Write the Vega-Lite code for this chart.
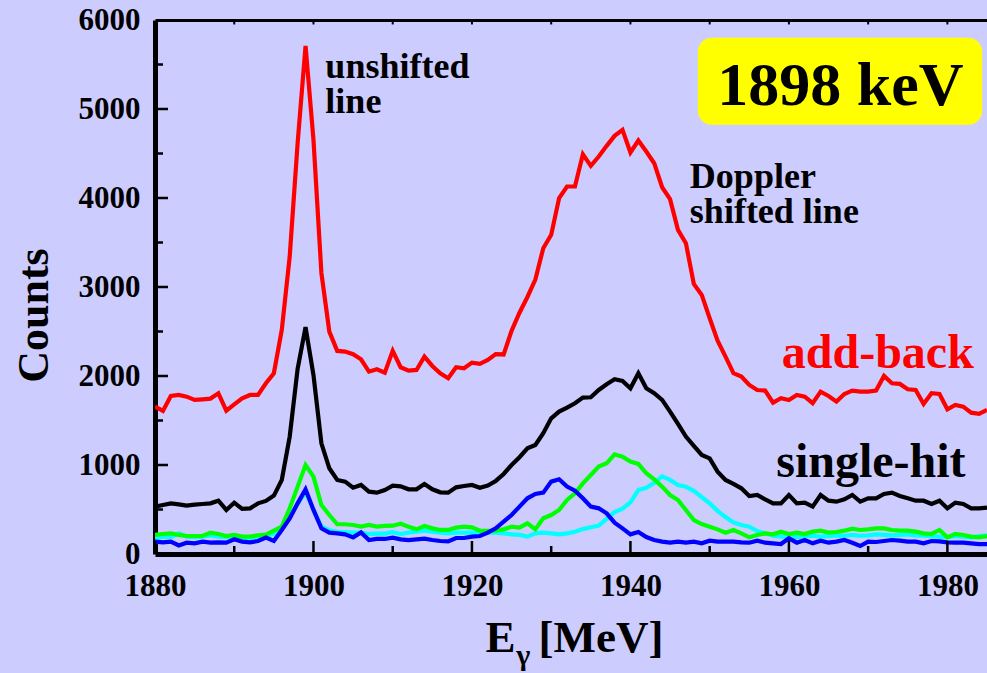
{
  "$schema": "https://vega.github.io/schema/vega-lite/v6.json",
  "width": 832,
  "height": 534,
  "autosize": {"type": "none"},
  "padding": {"left": 155, "top": 20, "right": 0, "bottom": 119},
  "background": "#ccccff",
  "config": {
    "view": {"stroke": null},
    "font": "Liberation Serif",
    "axis": {
      "domainColor": "#000000",
      "domainWidth": 5,
      "labelFont": "Liberation Serif",
      "labelFontWeight": "bold",
      "labelFontSize": 31,
      "labelColor": "#000000",
      "labelOverlap": false,
      "labelFlush": false,
      "grid": false
    }
  },
  "datasets": {
    "spectra": [
      {"E":1880,"addback":1656,"singlehit":532,"subsetA":214,"subsetB":139,"subsetC":176},
      {"E":1881,"addback":1608,"singlehit":551,"subsetA":225,"subsetB":131,"subsetC":195},
      {"E":1882,"addback":1776,"singlehit":569,"subsetA":232,"subsetB":139,"subsetC":190},
      {"E":1883,"addback":1787,"singlehit":558,"subsetA":214,"subsetB":97,"subsetC":232},
      {"E":1884,"addback":1768,"singlehit":543,"subsetA":202,"subsetB":127,"subsetC":195},
      {"E":1885,"addback":1731,"singlehit":555,"subsetA":202,"subsetB":120,"subsetC":190},
      {"E":1886,"addback":1738,"singlehit":562,"subsetA":202,"subsetB":139,"subsetC":195},
      {"E":1887,"addback":1746,"singlehit":569,"subsetA":240,"subsetB":127,"subsetC":210},
      {"E":1888,"addback":1806,"singlehit":599,"subsetA":225,"subsetB":131,"subsetC":195},
      {"E":1889,"addback":1611,"singlehit":495,"subsetA":202,"subsetB":127,"subsetC":190},
      {"E":1890,"addback":1682,"singlehit":577,"subsetA":214,"subsetB":165,"subsetC":195},
      {"E":1891,"addback":1750,"singlehit":506,"subsetA":195,"subsetB":139,"subsetC":176},
      {"E":1892,"addback":1787,"singlehit":513,"subsetA":195,"subsetB":131,"subsetC":182},
      {"E":1893,"addback":1787,"singlehit":569,"subsetA":210,"subsetB":146,"subsetC":195},
      {"E":1894,"addback":1918,"singlehit":596,"subsetA":217,"subsetB":184,"subsetC":200},
      {"E":1895,"addback":2031,"singlehit":656,"subsetA":262,"subsetB":146,"subsetC":230},
      {"E":1896,"addback":2518,"singlehit":832,"subsetA":307,"subsetB":270,"subsetC":290},
      {"E":1897,"addback":3342,"singlehit":1319,"subsetA":513,"subsetB":401,"subsetC":420},
      {"E":1898,"addback":4616,"singlehit":2080,"subsetA":757,"subsetB":569,"subsetC":560},
      {"E":1899,"addback":5710,"singlehit":2550,"subsetA":1000,"subsetB":727,"subsetC":700},
      {"E":1900,"addback":4653,"singlehit":2010,"subsetA":869,"subsetB":495,"subsetC":500},
      {"E":1901,"addback":3158,"singlehit":1244,"subsetA":551,"subsetB":288,"subsetC":310},
      {"E":1902,"addback":2499,"singlehit":963,"subsetA":438,"subsetB":240,"subsetC":265},
      {"E":1903,"addback":2282,"singlehit":832,"subsetA":334,"subsetB":232,"subsetC":250},
      {"E":1904,"addback":2274,"singlehit":813,"subsetA":334,"subsetB":221,"subsetC":245},
      {"E":1905,"addback":2244,"singlehit":745,"subsetA":326,"subsetB":187,"subsetC":240},
      {"E":1906,"addback":2188,"singlehit":776,"subsetA":307,"subsetB":243,"subsetC":240},
      {"E":1907,"addback":2049,"singlehit":700,"subsetA":326,"subsetB":157,"subsetC":225},
      {"E":1908,"addback":2076,"singlehit":689,"subsetA":307,"subsetB":169,"subsetC":230},
      {"E":1909,"addback":2038,"singlehit":719,"subsetA":315,"subsetB":169,"subsetC":230},
      {"E":1910,"addback":2282,"singlehit":768,"subsetA":318,"subsetB":184,"subsetC":245},
      {"E":1911,"addback":2098,"singlehit":760,"subsetA":340,"subsetB":165,"subsetC":225},
      {"E":1912,"addback":2061,"singlehit":727,"subsetA":307,"subsetB":157,"subsetC":240},
      {"E":1913,"addback":2068,"singlehit":727,"subsetA":277,"subsetB":165,"subsetC":251},
      {"E":1914,"addback":2218,"singlehit":787,"subsetA":315,"subsetB":172,"subsetC":262},
      {"E":1915,"addback":2113,"singlehit":727,"subsetA":288,"subsetB":157,"subsetC":251},
      {"E":1916,"addback":2031,"singlehit":693,"subsetA":270,"subsetB":146,"subsetC":240},
      {"E":1917,"addback":1975,"singlehit":689,"subsetA":270,"subsetB":142,"subsetC":232},
      {"E":1918,"addback":2098,"singlehit":749,"subsetA":296,"subsetB":180,"subsetC":240},
      {"E":1919,"addback":2087,"singlehit":764,"subsetA":307,"subsetB":180,"subsetC":240},
      {"E":1920,"addback":2150,"singlehit":776,"subsetA":300,"subsetB":195,"subsetC":240},
      {"E":1921,"addback":2136,"singlehit":745,"subsetA":262,"subsetB":202,"subsetC":232},
      {"E":1922,"addback":2180,"singlehit":768,"subsetA":259,"subsetB":240,"subsetC":240},
      {"E":1923,"addback":2246,"singlehit":821,"subsetA":262,"subsetB":288,"subsetC":240},
      {"E":1924,"addback":2242,"singlehit":899,"subsetA":277,"subsetB":363,"subsetC":232},
      {"E":1925,"addback":2508,"singlehit":1000,"subsetA":307,"subsetB":438,"subsetC":221},
      {"E":1926,"addback":2711,"singlehit":1087,"subsetA":296,"subsetB":532,"subsetC":214},
      {"E":1927,"addback":2888,"singlehit":1188,"subsetA":345,"subsetB":626,"subsetC":195},
      {"E":1928,"addback":3083,"singlehit":1225,"subsetA":277,"subsetB":674,"subsetC":232},
      {"E":1929,"addback":3436,"singlehit":1357,"subsetA":401,"subsetB":689,"subsetC":240},
      {"E":1930,"addback":3586,"singlehit":1525,"subsetA":438,"subsetB":813,"subsetC":232},
      {"E":1931,"addback":3998,"singlehit":1600,"subsetA":495,"subsetB":839,"subsetC":220},
      {"E":1932,"addback":4129,"singlehit":1645,"subsetA":607,"subsetB":757,"subsetC":232},
      {"E":1933,"addback":4129,"singlehit":1694,"subsetA":682,"subsetB":712,"subsetC":250},
      {"E":1934,"addback":4492,"singlehit":1757,"subsetA":794,"subsetB":626,"subsetC":280},
      {"E":1935,"addback":4361,"singlehit":1761,"subsetA":888,"subsetB":532,"subsetC":300},
      {"E":1936,"addback":4466,"singlehit":1843,"subsetA":982,"subsetB":513,"subsetC":320},
      {"E":1937,"addback":4586,"singlehit":1907,"subsetA":1019,"subsetB":457,"subsetC":395},
      {"E":1938,"addback":4698,"singlehit":1963,"subsetA":1120,"subsetB":352,"subsetC":470},
      {"E":1939,"addback":4766,"singlehit":1945,"subsetA":1094,"subsetB":288,"subsetC":510},
      {"E":1940,"addback":4511,"singlehit":1862,"subsetA":1038,"subsetB":221,"subsetC":580},
      {"E":1941,"addback":4646,"singlehit":2031,"subsetA":1012,"subsetB":247,"subsetC":719},
      {"E":1942,"addback":4522,"singlehit":1862,"subsetA":907,"subsetB":190,"subsetC":745},
      {"E":1943,"addback":4391,"singlehit":1806,"subsetA":839,"subsetB":157,"subsetC":800},
      {"E":1944,"addback":4121,"singlehit":1731,"subsetA":757,"subsetB":139,"subsetC":872},
      {"E":1945,"addback":3987,"singlehit":1600,"subsetA":663,"subsetB":127,"subsetC":832},
      {"E":1946,"addback":3642,"singlehit":1461,"subsetA":607,"subsetB":139,"subsetC":776},
      {"E":1947,"addback":3492,"singlehit":1319,"subsetA":495,"subsetB":127,"subsetC":757},
      {"E":1948,"addback":3035,"singlehit":1214,"subsetA":382,"subsetB":139,"subsetC":710},
      {"E":1949,"addback":2911,"singlehit":1113,"subsetA":337,"subsetB":120,"subsetC":640},
      {"E":1950,"addback":2649,"singlehit":1075,"subsetA":307,"subsetB":150,"subsetC":570},
      {"E":1951,"addback":2396,"singlehit":925,"subsetA":277,"subsetB":139,"subsetC":485},
      {"E":1952,"addback":2218,"singlehit":832,"subsetA":240,"subsetB":139,"subsetC":415},
      {"E":1953,"addback":2031,"singlehit":787,"subsetA":270,"subsetB":139,"subsetC":355},
      {"E":1954,"addback":1993,"singlehit":738,"subsetA":232,"subsetB":131,"subsetC":326},
      {"E":1955,"addback":1900,"singlehit":652,"subsetA":187,"subsetB":127,"subsetC":307},
      {"E":1956,"addback":1843,"singlehit":663,"subsetA":214,"subsetB":150,"subsetC":258},
      {"E":1957,"addback":1836,"singlehit":614,"subsetA":232,"subsetB":127,"subsetC":232},
      {"E":1958,"addback":1701,"singlehit":569,"subsetA":221,"subsetB":120,"subsetC":205},
      {"E":1959,"addback":1750,"singlehit":569,"subsetA":251,"subsetB":112,"subsetC":195},
      {"E":1960,"addback":1731,"singlehit":663,"subsetA":225,"subsetB":176,"subsetC":200},
      {"E":1961,"addback":1787,"singlehit":569,"subsetA":240,"subsetB":127,"subsetC":190},
      {"E":1962,"addback":1768,"singlehit":577,"subsetA":225,"subsetB":157,"subsetC":200},
      {"E":1963,"addback":1694,"singlehit":532,"subsetA":251,"subsetB":120,"subsetC":205},
      {"E":1964,"addback":1824,"singlehit":663,"subsetA":262,"subsetB":150,"subsetC":195},
      {"E":1965,"addback":1776,"singlehit":599,"subsetA":240,"subsetB":127,"subsetC":200},
      {"E":1966,"addback":1712,"singlehit":588,"subsetA":247,"subsetB":139,"subsetC":210},
      {"E":1967,"addback":1798,"singlehit":614,"subsetA":262,"subsetB":157,"subsetC":205},
      {"E":1968,"addback":1836,"singlehit":663,"subsetA":285,"subsetB":127,"subsetC":215},
      {"E":1969,"addback":1824,"singlehit":588,"subsetA":270,"subsetB":90,"subsetC":205},
      {"E":1970,"addback":1824,"singlehit":626,"subsetA":277,"subsetB":139,"subsetC":210},
      {"E":1971,"addback":1836,"singlehit":626,"subsetA":288,"subsetB":135,"subsetC":220},
      {"E":1972,"addback":2001,"singlehit":674,"subsetA":288,"subsetB":146,"subsetC":215},
      {"E":1973,"addback":1918,"singlehit":689,"subsetA":270,"subsetB":157,"subsetC":210},
      {"E":1974,"addback":1911,"singlehit":652,"subsetA":262,"subsetB":150,"subsetC":215},
      {"E":1975,"addback":1851,"singlehit":626,"subsetA":262,"subsetB":139,"subsetC":220},
      {"E":1976,"addback":1843,"singlehit":599,"subsetA":251,"subsetB":139,"subsetC":210},
      {"E":1977,"addback":1686,"singlehit":599,"subsetA":232,"subsetB":120,"subsetC":205},
      {"E":1978,"addback":1806,"singlehit":562,"subsetA":225,"subsetB":146,"subsetC":200},
      {"E":1979,"addback":1798,"singlehit":599,"subsetA":270,"subsetB":142,"subsetC":195},
      {"E":1980,"addback":1626,"singlehit":513,"subsetA":187,"subsetB":131,"subsetC":190},
      {"E":1981,"addback":1675,"singlehit":577,"subsetA":225,"subsetB":127,"subsetC":200},
      {"E":1982,"addback":1656,"singlehit":562,"subsetA":214,"subsetB":127,"subsetC":195},
      {"E":1983,"addback":1588,"singlehit":513,"subsetA":195,"subsetB":120,"subsetC":185},
      {"E":1984,"addback":1574,"singlehit":513,"subsetA":187,"subsetB":112,"subsetC":200},
      {"E":1985,"addback":1619,"singlehit":521,"subsetA":202,"subsetB":112,"subsetC":210}
    ]
  },
  "resolve": {"axis": {"x": "independent", "y": "independent"}},
  "layer": [
    {
      "data": {"name": "spectra"},
      "transform": [
        {"fold": ["subsetC", "subsetA", "subsetB", "singlehit", "addback"], "as": ["series", "counts"]}
      ],
      "mark": {"type": "line", "strokeWidth": 4.2, "clip": true},
      "encoding": {
        "x": {
          "field": "E",
          "type": "quantitative",
          "scale": {"domain": [1880, 1985], "nice": false, "zero": false},
          "axis": {
            "orient": "bottom",
            "title": null,
            "values": [1880, 1900, 1920, 1940, 1960, 1980],
            "format": "d",
            "ticks": false,
            "labelPadding": 17
          }
        },
        "y": {
          "field": "counts",
          "type": "quantitative",
          "scale": {"domain": [0, 6000], "nice": false},
          "axis": {
            "orient": "left",
            "title": "Counts",
            "titleFont": "Liberation Serif",
            "titleFontWeight": "bold",
            "titleFontSize": 44,
            "titleColor": "#000000",
            "titleX": -108,
            "titleY": 295,
            "titleBaseline": "alphabetic",
            "values": [0, 1000, 2000, 3000, 4000, 5000, 6000],
            "format": "d",
            "ticks": false,
            "labelPadding": 15
          }
        },
        "color": {
          "field": "series",
          "type": "nominal",
          "scale": {
            "domain": ["subsetC", "subsetA", "subsetB", "singlehit", "addback"],
            "range": ["#00ffff", "#00ff00", "#0000ff", "#000000", "#ff0000"]
          },
          "legend": null
        }
      }
    },
    {
      "data": {"values": [
        {"E": 1880}, {"E": 1900}, {"E": 1920}, {"E": 1940}, {"E": 1960}, {"E": 1980}
      ]},
      "mark": {"type": "rule", "strokeWidth": 2.5, "color": "#000000"},
      "encoding": {
        "x": {"field": "E", "type": "quantitative", "axis": null},
        "y": {"datum": 0, "type": "quantitative", "axis": null},
        "y2": {"datum": 146}
      }
    },
    {
      "data": {"values": [
        {"E": 1890}, {"E": 1910}, {"E": 1930}, {"E": 1950}, {"E": 1970}
      ]},
      "mark": {"type": "rule", "strokeWidth": 2.5, "color": "#000000"},
      "encoding": {
        "x": {"field": "E", "type": "quantitative", "axis": null},
        "y": {"datum": 0, "type": "quantitative", "axis": null},
        "y2": {"datum": 90}
      }
    },
    {
      "data": {"values": [
        {"E": 1890}, {"E": 1900}, {"E": 1910}, {"E": 1920}, {"E": 1930},
        {"E": 1940}, {"E": 1950}, {"E": 1960}, {"E": 1970}, {"E": 1980}
      ]},
      "mark": {"type": "rule", "strokeWidth": 2, "color": "#000000"},
      "encoding": {
        "x": {"field": "E", "type": "quantitative", "axis": null},
        "y": {"datum": 6000, "type": "quantitative", "axis": null},
        "y2": {"datum": 5950}
      }
    },
    {
      "data": {"values": [
        {"C": 1000}, {"C": 2000}, {"C": 3000}, {"C": 4000}, {"C": 5000}
      ]},
      "mark": {"type": "rule", "strokeWidth": 2.5, "color": "#000000"},
      "encoding": {
        "y": {"field": "C", "type": "quantitative", "axis": null},
        "x": {"datum": 1880, "type": "quantitative", "axis": null},
        "x2": {"datum": 1881.64}
      }
    },
    {
      "data": {"values": [
        {"C": 500}, {"C": 1500}, {"C": 2500}, {"C": 3500}, {"C": 4500}, {"C": 5500}
      ]},
      "mark": {"type": "rule", "strokeWidth": 2.5, "color": "#000000"},
      "encoding": {
        "y": {"field": "C", "type": "quantitative", "axis": null},
        "x": {"datum": 1880, "type": "quantitative", "axis": null},
        "x2": {"datum": 1881.01}
      }
    },
    {
      "data": {"values": [{"E1": 1948.5, "E2": 1984.4, "C1": 4822, "C2": 5800}]},
      "mark": {"type": "rect", "fill": "#ffff00", "cornerRadius": 14},
      "encoding": {
        "x": {
          "field": "E1",
          "type": "quantitative",
          "axis": {"orient": "top", "title": null, "domainWidth": 3, "ticks": false, "labels": false}
        },
        "x2": {"field": "E2"},
        "y": {"field": "C1", "type": "quantitative", "axis": null},
        "y2": {"field": "C2"}
      }
    },
    {
      "data": {"values": [{"E": 1966.5, "C": 5047, "label": "1898 keV"}]},
      "mark": {"type": "text", "font": "Liberation Serif", "fontWeight": "bold", "fontSize": 62, "align": "center", "baseline": "alphabetic", "color": "#000000"},
      "encoding": {
        "x": {"field": "E", "type": "quantitative", "axis": null},
        "y": {"field": "C", "type": "quantitative", "axis": null},
        "text": {"field": "label"}
      }
    },
    {
      "data": {"values": [
        {"E": 1901.5, "C": 5350, "label": "unshifted"},
        {"E": 1901.5, "C": 4957, "label": "line"},
        {"E": 1947.5, "C": 4114, "label": "Doppler"},
        {"E": 1947.5, "C": 3720, "label": "shifted line"}
      ]},
      "mark": {"type": "text", "font": "Liberation Serif", "fontWeight": "bold", "fontSize": 36, "align": "left", "baseline": "alphabetic", "color": "#000000"},
      "encoding": {
        "x": {"field": "E", "type": "quantitative", "axis": null},
        "y": {"field": "C", "type": "quantitative", "axis": null},
        "text": {"field": "label"}
      }
    },
    {
      "data": {"values": [{"E": 1959.1, "C": 2091, "label": "add-back"}]},
      "mark": {"type": "text", "font": "Liberation Serif", "fontWeight": "bold", "fontSize": 48, "align": "left", "baseline": "alphabetic", "color": "#ff0000"},
      "encoding": {
        "x": {"field": "E", "type": "quantitative", "axis": null},
        "y": {"field": "C", "type": "quantitative", "axis": null},
        "text": {"field": "label"}
      }
    },
    {
      "data": {"values": [{"E": 1958.4, "C": 865, "label": "single-hit"}]},
      "mark": {"type": "text", "font": "Liberation Serif", "fontWeight": "bold", "fontSize": 48, "align": "left", "baseline": "alphabetic", "color": "#000000"},
      "encoding": {
        "x": {"field": "E", "type": "quantitative", "axis": null},
        "y": {"field": "C", "type": "quantitative", "axis": null},
        "text": {"field": "label"}
      }
    },
    {
      "data": {"values": [
        {"E": 1921.7, "C": -1102, "label": "E"},
        {"E": 1928.4, "C": -1102, "label": "[MeV]"}
      ]},
      "mark": {"type": "text", "font": "Liberation Serif", "fontWeight": "bold", "fontSize": 45, "align": "left", "baseline": "alphabetic", "color": "#000000"},
      "encoding": {
        "x": {"field": "E", "type": "quantitative", "axis": null},
        "y": {"field": "C", "type": "quantitative", "axis": null},
        "text": {"field": "label"}
      }
    },
    {
      "data": {"values": [{"E": 1925.6, "C": -1245, "label": "γ"}]},
      "mark": {"type": "text", "font": "Liberation Serif", "fontWeight": "bold", "fontSize": 30, "align": "left", "baseline": "alphabetic", "color": "#000000"},
      "encoding": {
        "x": {"field": "E", "type": "quantitative", "axis": null},
        "y": {"field": "C", "type": "quantitative", "axis": null},
        "text": {"field": "label"}
      }
    }
  ]
}
